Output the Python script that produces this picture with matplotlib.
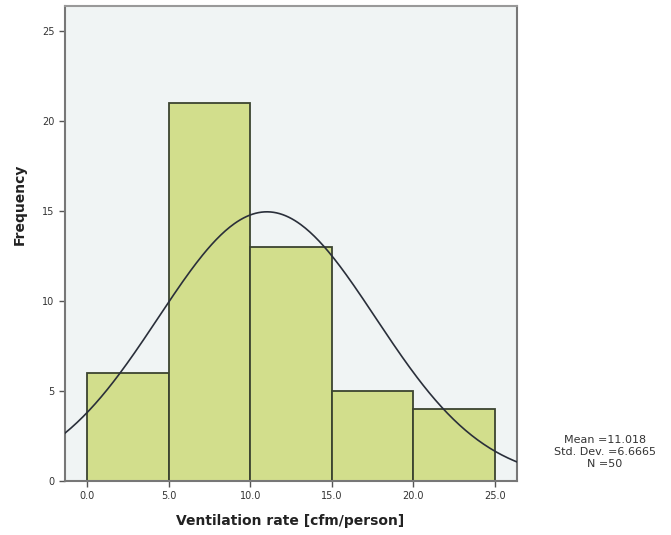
import numpy as np
import matplotlib.pyplot as plt

bin_edges = [0, 5, 10, 15, 20, 25]
counts = [6, 21, 13, 5, 4]
mean = 11.018
std = 6.6665
n = 50
xticks = [0, 5, 10, 15, 20, 25]
yticks = [0, 5, 10, 15, 20, 25]

fig = plt.figure(figsize=(6.71, 5.35), dpi=100)
ax = fig.add_axes([65 / 671, 1 - 481 / 535, (517 - 65) / 671, (481 - 6) / 535])
ax.set_facecolor('#f0f4f4')

widths = np.diff(bin_edges)
ax.bar(bin_edges[:-1], counts, width=widths, align='edge',
       color='#d2de8c', edgecolor='#3c4430', linewidth=1.3, zorder=2)

xlim = (-1.37, 26.36)
x = np.linspace(xlim[0], xlim[1], 300)
bw = widths[0]
y = n * bw / (std * np.sqrt(2 * np.pi)) * np.exp(-0.5 * ((x - mean) / std) ** 2)
ax.plot(x, y, color='#2a2f3a', linewidth=1.2, zorder=3)

ax.set_xlim(*xlim)
ax.set_ylim(0, 26.4)
ax.set_xticks(xticks)
ax.set_xticklabels([f'{v:.1f}' for v in xticks])
ax.set_yticks(yticks)
ax.tick_params(labelsize=7, length=4, width=1, color='#555555', labelcolor='#333333')
for s in ax.spines.values():
    s.set_color('#777777')
    s.set_linewidth(1.5)
ax.spines['top'].set_color('#999999')

fig.text(290 / 671, 1 - 521 / 535, 'Ventilation rate [cfm/person]', ha='center', va='center',
         fontsize=10, fontweight='bold', color='#222222')
fig.text(20 / 671, 1 - 204 / 535, 'Frequency', ha='center', va='center', rotation=90,
         fontsize=10, fontweight='bold', color='#222222')
fig.text(605 / 671, 1 - 452 / 535, f'Mean ={mean}\nStd. Dev. ={std}\nN ={n}',
         ha='center', va='center', fontsize=8, linespacing=1.2, color='#333333')

fig.savefig('out.png', dpi=100)
